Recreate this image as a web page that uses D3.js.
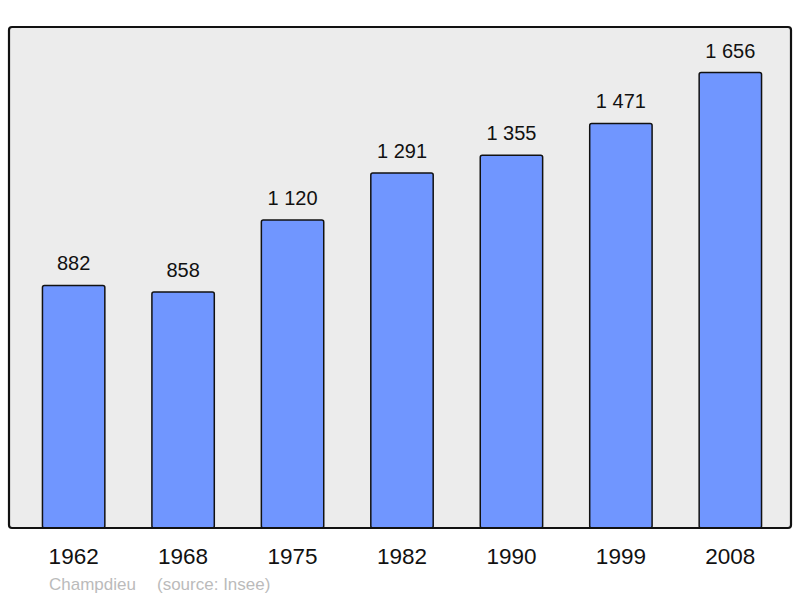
<!DOCTYPE html>
<html>
<head>
<meta charset="utf-8">
<script src="https://cdn.jsdelivr.net/npm/d3@7"></script>
<style>
  body { margin: 0; background: #fff; }
  text { font-family: "Liberation Sans", Arial, sans-serif; }
</style>
</head>
<body>
<script>
let years = ["1962", "1968", "1975", "1982", "1990", "1999", "2008"]
let population = [882, 858, 1120, 1291, 1355, 1471, 1656]
let commune = "Champdieu"
let source = "(source: Insee)"

let w = 800, h = 598
let frameLeft = 9, frameRight = 791, frameTop = 27, frameBottom = 528

let svg = d3.select("body").append("svg")
    .attr("width", w)
    .attr("height", h)

let xScale = d3.scaleBand()
    .domain(years)
    .range([frameLeft + 5, frameRight - 1])
    .paddingInner(0.43)
    .paddingOuter(0.26)

let yScale = d3.scaleLinear()
    .domain([0, d3.max(population) * 1.1])
    .range([frameBottom, frameTop])

let fmt = n => d3.format(",")(n).replace(",", " ")

// frame background
svg.append("rect")
    .attr("x", frameLeft)
    .attr("y", frameTop)
    .attr("width", frameRight - frameLeft)
    .attr("height", frameBottom - frameTop)
    .attr("rx", 3)
    .attr("fill", "#ececec")

svg.selectAll("rect.bar")
    .data(population)
    .enter()
    .append("rect")
    .attr("class", "bar")
    .attr("x", (d, i) => xScale(years[i]))
    .attr("y", d => yScale(d))
    .attr("width", xScale.bandwidth())
    .attr("height", d => frameBottom - yScale(d))
    .attr("rx", 2)
    .attr("fill", "#7096ff")
    .attr("stroke", "#111")
    .attr("stroke-width", 1.5)

svg.selectAll("text.value")
    .data(population)
    .enter()
    .append("text")
    .attr("class", "value")
    .attr("x", (d, i) => xScale(years[i]) + xScale.bandwidth() / 2)
    .attr("y", d => yScale(d) - 15)
    .attr("text-anchor", "middle")
    .attr("font-size", 20)
    .attr("fill", "#111")
    .text(d => fmt(d))

// frame border on top
svg.append("rect")
    .attr("x", frameLeft)
    .attr("y", frameTop)
    .attr("width", frameRight - frameLeft)
    .attr("height", frameBottom - frameTop)
    .attr("rx", 3)
    .attr("fill", "none")
    .attr("stroke", "#111")
    .attr("stroke-width", 2.2)

let xAxis = d3.axisBottom(xScale).tickSize(0).tickPadding(0)
let ax = svg.append("g")
    .attr("transform", "translate(0," + frameBottom + ")")
    .call(xAxis)
ax.select(".domain").remove()
ax.selectAll("text")
    .attr("y", 36)
    .attr("dy", 0)
    .attr("font-size", 22.5)
    .attr("font-family", "Liberation Sans, Arial, sans-serif")
    .attr("fill", "#111")

svg.append("text")
    .attr("x", 49)
    .attr("y", 590)
    .attr("font-size", 17)
    .attr("fill", "#bbbbbb")
    .text(commune)
svg.append("text")
    .attr("x", 157)
    .attr("y", 590)
    .attr("font-size", 17)
    .attr("fill", "#bbbbbb")
    .text(source)
</script>
</body>
</html>
